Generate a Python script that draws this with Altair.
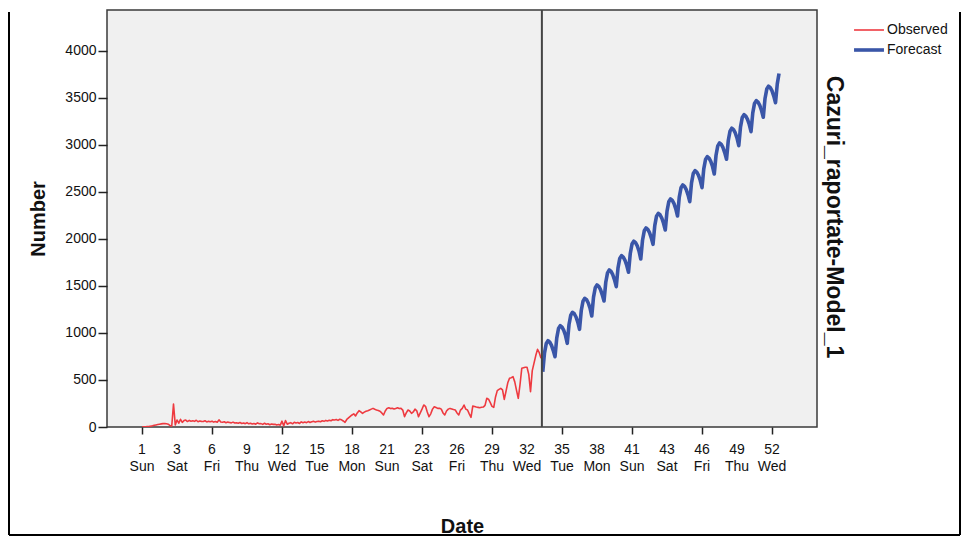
import altair as alt
import pandas as pd

# ---- data ----
tick_days = [0, 20, 40, 60, 80, 100, 120, 140, 160, 180, 200, 220, 240, 260, 280, 300, 320, 340, 360]
week_labels = ["1", "3", "6", "9", "12", "15", "18", "21", "23", "26", "29", "32", "35", "38", "41", "43", "46", "49", "52"]
day_labels = ["Sun", "Sat", "Fri", "Thu", "Wed", "Tue", "Mon", "Sun", "Sat", "Fri", "Thu", "Wed",
              "Tue", "Mon", "Sun", "Sat", "Fri", "Thu", "Wed"]
y_ticks = [0, 500, 1000, 1500, 2000, 2500, 3000, 3500, 4000]

observed = [
    0, 1, 2, 4, 6, 9, 13, 18, 22, 26, 30, 33, 36, 38, 35, 30, 15, 10,
    245, 22, 75,
    40, 82, 50, 68, 74, 58, 70, 62, 66, 60, 72, 56, 64, 60, 58, 66, 54, 60, 56,
    62, 52, 58, 50, 76, 54, 50, 56, 46, 52, 48, 44, 52, 42, 46, 40, 48, 38, 42, 36,
    46, 34, 40, 32, 38, 30, 44, 34, 36, 28, 40, 30, 34, 24, 32, 28, 30, 22, 26, 20,
    62, 12, 68, 30, 40, 46, 34, 50, 42, 48, 38, 55, 45, 52, 46, 58, 48, 56, 60, 52,
    58, 62, 56, 66, 60, 70, 64, 72, 66, 78, 74, 80, 70, 82, 76, 64, 50, 80, 96, 112,
    128, 140, 117, 150, 174, 160, 145, 158, 168, 174, 182, 190, 198, 188, 181, 176, 168, 150, 128, 170,
    198, 204, 196, 200, 192, 198, 204, 196, 198, 180, 110, 150, 181, 170, 145, 160, 190, 172, 110, 150,
    190, 234, 220, 160, 110, 140, 190, 216, 208, 198, 200, 190, 150, 128, 170, 190, 198, 192, 186, 181,
    150, 128, 180, 198, 234, 190, 181, 140, 103, 223, 218, 212, 209, 205, 210, 212, 230, 305, 296, 260,
    220, 209, 320, 387, 400, 411, 394, 294, 380, 470, 518, 525, 535, 480, 390, 305, 450, 624, 630, 635,
    635, 560, 376, 600, 680, 760, 826, 790, 731,
]

forecast = [
    588, 788, 888, 918, 903, 868, 813,
    748, 948, 1048, 1078, 1063, 1028, 973,
    890, 1090, 1190, 1220, 1205, 1170, 1115,
    1039, 1239, 1339, 1369, 1354, 1319, 1264,
    1181, 1381, 1481, 1511, 1496, 1461, 1406,
    1340, 1540, 1640, 1670, 1655, 1620, 1565,
    1493, 1693, 1793, 1823, 1808, 1773, 1718,
    1646, 1846, 1946, 1976, 1961, 1926, 1871,
    1787, 1987, 2087, 2117, 2102, 2067, 2012,
    1943, 2143, 2243, 2273, 2258, 2223, 2168,
    2096, 2296, 2396, 2426, 2411, 2376, 2321,
    2245, 2445, 2545, 2575, 2560, 2525, 2470,
    2397, 2597, 2697, 2727, 2712, 2677, 2622,
    2546, 2746, 2846, 2876, 2861, 2826, 2771,
    2691, 2891, 2991, 3021, 3006, 2971, 2916,
    2848, 3048, 3148, 3178, 3163, 3128, 3073,
    2993, 3193, 3293, 3323, 3308, 3273, 3218,
    3142, 3342, 3442, 3472, 3457, 3422, 3367,
    3295, 3495, 3595, 3625, 3610, 3575, 3520,
    3450, 3650, 3760,
]
forecast_start_day = 229
forecast_origin = 228.5
series_names = ["Observed", "Forecast"]
series_colors = ["#ee3a40", "#3a56a8"]
series_widths = [1.6, 3.6]
side_title = "Cazuri_raportate-Model_1"

rows = [{"day": i, "value": v, "series": "Observed"} for i, v in enumerate(observed)]
rows += [{"day": forecast_start_day + i, "value": v, "series": "Forecast"} for i, v in enumerate(forecast)]
df = pd.DataFrame(rows)

tick_df = pd.DataFrame({
    "day": tick_days,
    "label": [f"{w}\n{d}" for w, d in zip(week_labels, day_labels)],
})

FONT = "Liberation Sans"
W, H = 710, 417

x_scale = alt.Scale(domain=[-20, 385.7], nice=False, zero=False)
y_scale = alt.Scale(domain=[0, 4436], nice=False, zero=False)

legend_kw = dict(title=None, orient="none", legendX=749, legendY=8,
                 symbolType="M-1.36,0L1.36,0", symbolSize=484,
                 labelFontSize=14, labelOffset=5, rowPadding=0, labelColor="#111")

lines = alt.Chart(df).mark_line(strokeJoin="round", clip=True).encode(
    x=alt.X("day:Q", scale=x_scale,
            axis=alt.Axis(values=tick_days, labels=False, title="Date",
                          tickSize=7, titleFontSize=20, titlePadding=82, domain=False,
                          grid=False, tickColor="#222", tickWidth=1.5)),
    y=alt.Y("value:Q", scale=y_scale,
            axis=alt.Axis(values=y_ticks, format="d", title="Number", tickSize=9, labelPadding=2,
                          labelFontSize=14, titleFontSize=20, titlePadding=16, domain=False,
                          labelOverlap=False, grid=False, tickColor="#222", tickWidth=1.5,
                          labelColor="#111")),
    color=alt.Color("series:N", scale=alt.Scale(domain=series_names, range=series_colors),
                    legend=alt.Legend(**legend_kw)),
    strokeWidth=alt.StrokeWidth("series:N", scale=alt.Scale(domain=series_names, range=series_widths),
                                legend=alt.Legend(**legend_kw)),
    detail="series:N",
)

tick_labels = alt.Chart(tick_df).mark_text(
    fontSize=14, font=FONT, align="center", baseline="top", lineBreak="\n", lineHeight=17,
    color="#111"
).encode(x=alt.X("day:Q", scale=x_scale), y=alt.value(H + 16), text="label:N")

origin = alt.Chart(pd.DataFrame({"day": [forecast_origin]})).mark_rule(
    color="#444444", strokeWidth=2
).encode(x=alt.X("day:Q", scale=x_scale))

title_txt = alt.Chart(pd.DataFrame({"t": [side_title]})).mark_text(
    angle=90, fontSize=23, fontWeight="bold", font=FONT, align="center", baseline="middle", color="#111"
).encode(x=alt.value(727), y=alt.value(207), text="t:N")

one = pd.DataFrame({"a": [0]})
frame_l = alt.Chart(one).mark_rule(color="black", strokeWidth=2).encode(
    x=alt.value(-98), x2=alt.value(-98), y=alt.value(2), y2=alt.value(525)
)
frame_r = alt.Chart(one).mark_rule(color="black", strokeWidth=2).encode(
    x=alt.value(853), x2=alt.value(853), y=alt.value(2), y2=alt.value(525)
)
frame_b = alt.Chart(one).mark_rule(color="black", strokeWidth=2).encode(
    x=alt.value(-98), x2=alt.value(853), y=alt.value(525), y2=alt.value(525)
)

chart = alt.layer(lines, tick_labels, origin, title_txt, frame_l, frame_r, frame_b).properties(
    width=W, height=H,
    autosize=alt.AutoSizeParams(type="none"),
    padding={"left": 99, "top": 2, "right": 145, "bottom": 109},
).configure(font=FONT).configure_view(
    fill="#f0f0f0", stroke="#3a3a3a", strokeWidth=1.5
).configure_axis(
    titleFontWeight="bold", titleColor="#111", labelFont=FONT, titleFont=FONT
).configure_legend(labelFont=FONT)

chart.save("out.html", embed_options={"renderer": "svg", "actions": False})
